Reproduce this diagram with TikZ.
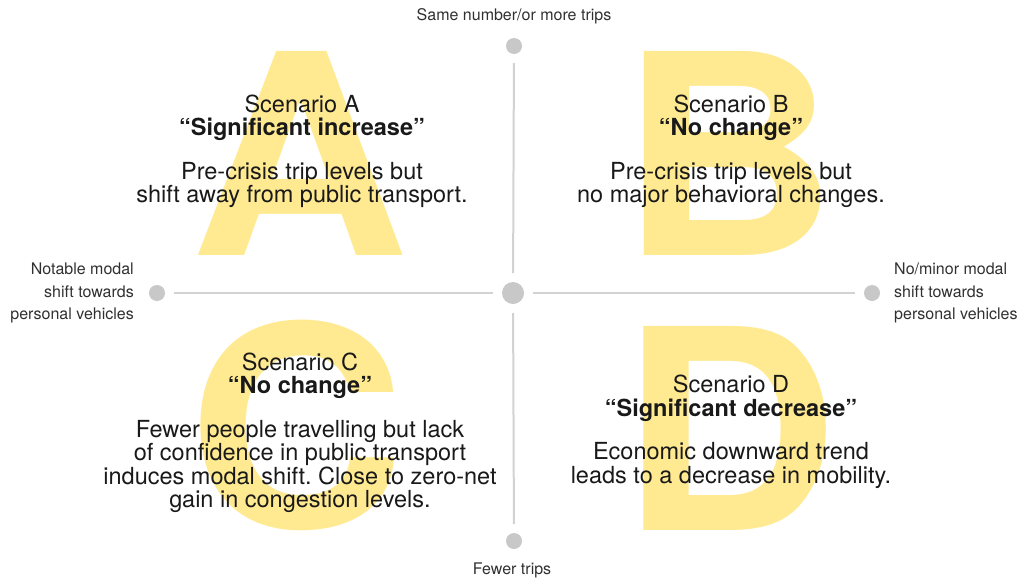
\documentclass[tikz,border=0pt]{standalone}
\usepackage{fontspec}
\setmainfont{TeX Gyre Heros}
\frenchspacing

\definecolor{letteryellow}{RGB}{255,234,145}
\definecolor{axisgray}{RGB}{210,210,210}
\definecolor{dotgray}{RGB}{200,200,200}
\definecolor{textblack}{RGB}{25,25,25}

\newcommand{\wideletter}[1]{\scalebox{1.08}[1]{#1}}

\tikzset{
  axisdot/.style={circle, fill=dotgray, inner sep=0pt, outer sep=0pt, minimum size=#1},
  axisline/.style={draw=axisgray, line width=2pt, shorten <=9pt, shorten >=9pt},
  bigletter/.style={text=letteryellow, font=\fontsize{280}{280}\selectfont\bfseries, inner sep=0pt, anchor=base},
  scenario/.style={align=center, inner sep=0pt, text=textblack, font=\fontsize{23.5}{23.5}\selectfont},
  axislabel/.style={inner sep=0pt, text=textblack!90, font=\fontsize{16}{22.5}\selectfont},
}

\begin{document}
\begin{tikzpicture}[x=1pt,y=-1pt]
\useasboundingbox (0,0) rectangle (1035,581);
% big letters behind everything
\node[bigletter] (letA) at (300,255) {\wideletter{A}};
\node[bigletter] (letB) at (729,255) {\wideletter{B}};
\node[bigletter] (letC) at (297,527) {\wideletter{C}};
\node[bigletter] (letD) at (730,530) {\wideletter{D}};
% the two axes, dots first
\node[axisdot=22pt] (mid) at (513,293) {};
\node[axisdot=16pt] (up) at (514,46) {};
\node[axisdot=16pt] (down) at (514,541) {};
\node[axisdot=16pt] (west) at (157,293) {};
\node[axisdot=16pt] (east) at (872,293) {};
\draw[axisline] (up) -- (mid);
\draw[axisline] (mid) -- (down);
\draw[axisline] (west) -- (mid);
\draw[axisline] (mid) -- (east);
% axis labels
\node[axislabel] (uplab) at (514,16) {Same number/or more trips};
\node[axislabel] (downlab) at (512,570) {Fewer trips};
\node[axislabel, align=right, anchor=east] (westlab) at (134,293)
  {Notable modal\\shift towards\\personal vehicles};
\node[axislabel, align=left, anchor=west] (eastlab) at (894,293)
  {No/minor modal\\shift towards\\personal vehicles};
% scenario texts
\node[scenario] (scA) at (302,151.5) {Scenario A\\\textbf{“Significant increase”}\\[20pt]
  Pre-crisis trip levels but\\shift away from public transport.};
\node[scenario] (scB) at (731,151.5) {Scenario B\\\textbf{“No change”}\\[20pt]
  Pre-crisis trip levels but\\no major behavioral changes.};
\node[scenario] (scC) at (300,433) {Scenario C\\\textbf{“No change”}\\[20pt]
  Fewer people travelling but lack\\of confidence in public transport\\
  induces modal shift. Close to zero-net\\gain in congestion levels.};
\node[scenario] (scD) at (731,432) {Scenario D\\\textbf{“Significant decrease”}\\[20pt]
  Economic downward trend\\leads to a decrease in mobility.};
\end{tikzpicture}
\end{document}
